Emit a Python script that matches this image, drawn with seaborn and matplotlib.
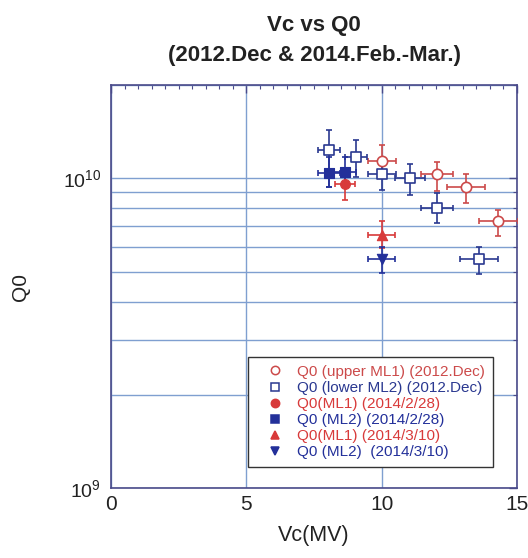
import matplotlib
matplotlib.use("Agg")
import matplotlib.pyplot as plt
from matplotlib.ticker import LogLocator, MultipleLocator, NullFormatter, FixedLocator
import numpy as np
import pandas as pd
import seaborn as sns

# ---- data ----
# 2012 Dec, upper ML1
dec_ml1_vc = [10.0, 12.05, 13.1, 14.3]
dec_ml1_q0 = [1.14e10, 1.03e10, 9.4e9, 7.3e9]
dec_ml1_q0_hi = [1.28e10, 1.13e10, 1.03e10, 7.9e9]
dec_ml1_q0_lo = [1.01e10, 9.1e9, 8.3e9, 6.5e9]
dec_ml1_vc_err = [0.52, 0.6, 0.7, 0.72]

# 2012 Dec, lower ML2
dec_ml2_vc = [8.05, 9.05, 10.0, 11.05, 12.05, 13.6]
dec_ml2_q0 = [1.23e10, 1.17e10, 1.035e10, 1.0e10, 8.0e9, 5.5e9]
dec_ml2_q0_hi = [1.43e10, 1.33e10, 1.14e10, 1.11e10, 8.96e9, 5.98e9]
dec_ml2_q0_lo = [9.4e9, 1.01e10, 9.14e9, 8.8e9, 7.16e9, 4.9e9]
dec_ml2_vc_err = [0.42, 0.4, 0.52, 0.56, 0.58, 0.69]

# 2014/2/28
feb_ml1_vc = [8.65]
feb_ml1_q0 = [9.6e9]
feb_ml1_q0_hi = [1.05e10]
feb_ml1_q0_lo = [8.5e9]
feb_ml1_vc_err = [0.37]

feb_ml2_vc = [8.05, 8.65]
feb_ml2_q0 = [1.04e10, 1.045e10]
feb_ml2_q0_hi = [1.17e10, 1.17e10]
feb_ml2_q0_lo = [9.35e9, 9.35e9]
feb_ml2_vc_err = [0.4, 0.4]

# 2014/3/10
mar_ml1_vc = [10.0]
mar_ml1_q0 = [6.55e9]
mar_ml1_q0_hi = [7.3e9]
mar_ml1_q0_lo = [5.97e9]
mar_ml1_vc_err = [0.5]

mar_ml2_vc = [10.0]
mar_ml2_q0 = [5.5e9]
mar_ml2_q0_hi = [6.0e9]
mar_ml2_q0_lo = [4.93e9]
mar_ml2_vc_err = [0.5]

RED = "#d83a3a"
RED_OPEN = "#cc4a4a"
BLUE = "#23309a"
BLUE_OPEN = "#2a3890"
GRID = "#7f9fd0"
FRAME = "#4a4a8a"
TEXT = "#222222"

sns.set_style("white")
plt.rcParams["font.family"] = ["Liberation Sans", "DejaVu Sans"]
plt.rcParams["mathtext.fontset"] = "custom"
plt.rcParams["mathtext.rm"] = "Liberation Sans"

fig = plt.figure(figsize=(5.28, 5.58), dpi=100)
ax = fig.add_axes([0.2102, 0.1254, 0.769, 0.7222])

series = [
    ("Q0 (upper ML1) (2012.Dec)", dec_ml1_vc, dec_ml1_q0, dec_ml1_q0_lo, dec_ml1_q0_hi, dec_ml1_vc_err, "o", RED_OPEN, False, 55),
    ("Q0 (lower ML2) (2012.Dec)", dec_ml2_vc, dec_ml2_q0, dec_ml2_q0_lo, dec_ml2_q0_hi, dec_ml2_vc_err, "s", BLUE_OPEN, False, 55),
    ("Q0(ML1) (2014/2/28)", feb_ml1_vc, feb_ml1_q0, feb_ml1_q0_lo, feb_ml1_q0_hi, feb_ml1_vc_err, "o", RED, True, 50),
    ("Q0 (ML2) (2014/2/28)", feb_ml2_vc, feb_ml2_q0, feb_ml2_q0_lo, feb_ml2_q0_hi, feb_ml2_vc_err, "s", BLUE, True, 50),
    ("Q0(ML1) (2014/3/10)", mar_ml1_vc, mar_ml1_q0, mar_ml1_q0_lo, mar_ml1_q0_hi, mar_ml1_vc_err, "^", RED, True, 55),
    ("Q0 (ML2)  (2014/3/10)", mar_ml2_vc, mar_ml2_q0, mar_ml2_q0_lo, mar_ml2_q0_hi, mar_ml2_vc_err, "v", BLUE, True, 55),
]

handles = []
for label, vc, q0, lo, hi, xerr, mk, col, filled, size in series:
    q = np.array(q0)
    yerr = [q - np.array(lo), np.array(hi) - q]
    ax.errorbar(vc, q0, xerr=xerr, yerr=yerr, fmt="none", ecolor=col,
                elinewidth=1.2, capsize=2.5, capthick=1.2, zorder=3)
    df = pd.DataFrame({"Vc": vc, "Q0": q0})
    if filled:
        sns.scatterplot(data=df, x="Vc", y="Q0", ax=ax, marker=mk, s=size,
                        color=col, edgecolor=col, linewidth=0.8, zorder=4, legend=False)
    else:
        sns.scatterplot(data=df, x="Vc", y="Q0", ax=ax, marker=mk, s=size,
                        facecolor="white", edgecolor=col, linewidth=1.2, zorder=4, legend=False)
    h = plt.Line2D([], [], linestyle="none", marker=mk, markersize=6,
                   markerfacecolor=(col if filled else "none"),
                   markeredgecolor=col, markeredgewidth=1.1)
    handles.append((h, label, col))

ax.set_yscale("log")
ax.set_xlim(0, 15)
ax.set_ylim(1e9, 2.0e10)

# grid: vertical at 5 and 10, horizontal at decade and sub-decade values
ax.xaxis.set_major_locator(FixedLocator([0, 5, 10, 15]))
ax.xaxis.set_minor_locator(MultipleLocator(0.5))
ax.yaxis.set_major_locator(LogLocator(base=10, numticks=5))
ax.yaxis.set_minor_locator(LogLocator(base=10, subs=np.arange(2, 10), numticks=20))
ax.yaxis.set_minor_formatter(NullFormatter())
ax.grid(True, which="major", axis="x", color=GRID, linewidth=1.0, zorder=0)
ax.grid(True, which="both", axis="y", color=GRID, linewidth=1.0, zorder=0)
ax.set_axisbelow(True)

ax.tick_params(axis="both", which="both", direction="in", top=True, right=True,
               colors=FRAME, labelcolor=TEXT)
ax.tick_params(axis="x", which="major", length=6, width=1, labelsize=15, pad=5)
ax.tick_params(axis="y", which="major", length=6, width=1, labelsize=14, pad=7)
ax.tick_params(axis="both", which="minor", length=3, width=0.8)
for s in ax.spines.values():
    s.set_color(FRAME)
    s.set_linewidth(1.2)

ax.set_xlabel("Vc(MV)", fontsize=15.5, color=TEXT, va="center")
ax.xaxis.set_label_coords(0.5, -0.1166)
ax.set_ylabel("Q0", fontsize=15, color=TEXT, va="center")
ax.yaxis.set_label_coords(-0.2217, 0.5)
ax.set_title("Vc vs Q0\n(2012.Dec & 2014.Feb.-Mar.)", fontsize=16,
             fontweight="bold", color=TEXT, pad=17, linespacing=1.6)

leg = ax.legend([h for h, _, _ in handles], [l for _, l, _ in handles],
                loc="lower left", bbox_to_anchor=(0.337, 0.052), fontsize=11,
                frameon=True, fancybox=False, framealpha=1, edgecolor="#333333",
                handlelength=2.5, handletextpad=0.25, labelspacing=0.14,
                borderpad=0.5, borderaxespad=0.0)
leg.get_frame().set_linewidth(1.0)
for txt, (_, _, col) in zip(leg.get_texts(), handles):
    txt.set_color(col)

fig.savefig("out.png", dpi=100, facecolor="white")
